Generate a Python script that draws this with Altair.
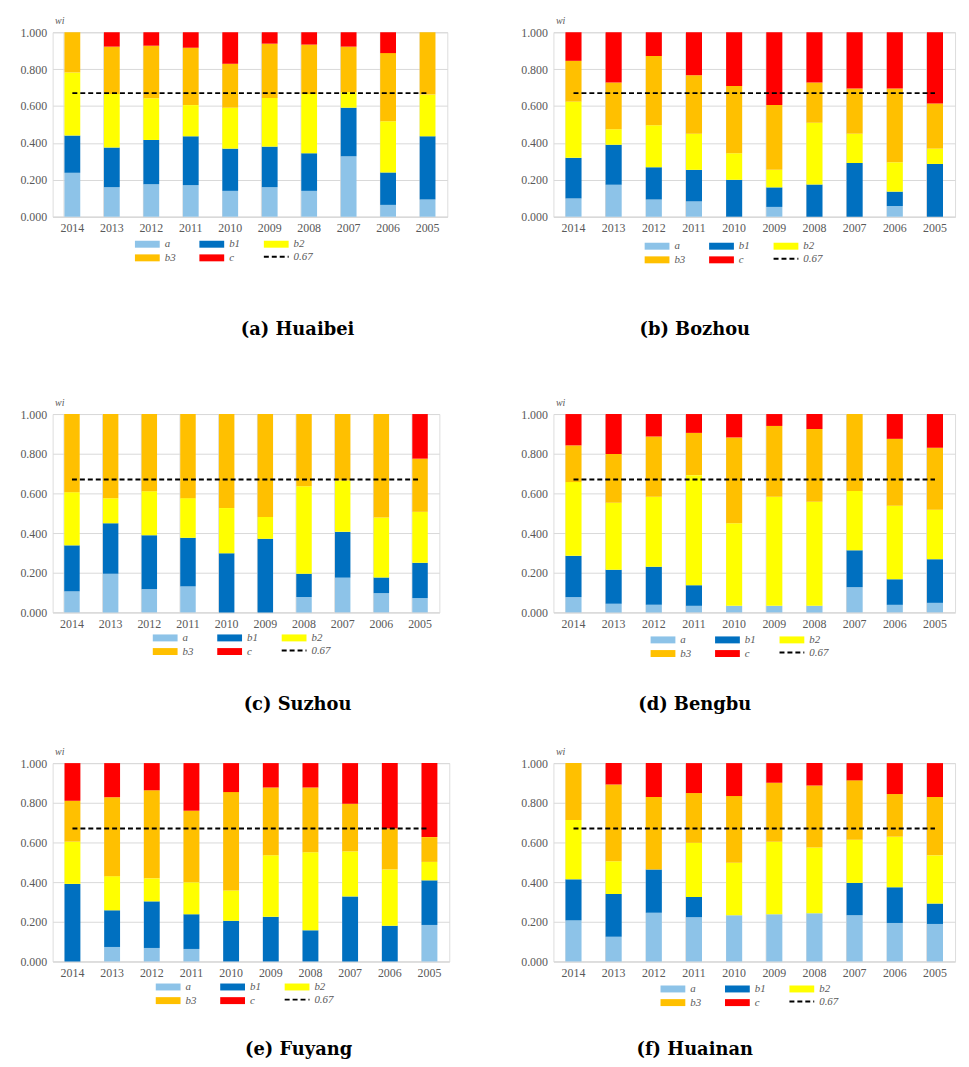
import altair as alt
import pandas as pd

years = ["2014", "2013", "2012", "2011", "2010", "2009", "2008", "2007", "2006", "2005"]
components = ["a", "b1", "b2", "b3", "c"]
colors = ["#8DC3E8", "#0070C0", "#FFFF00", "#FFC000", "#FF0000"]
threshold = 0.67

# segment shares per year (a, b1, b2, b3, c)
huaibei = {
    "a":  [0.238, 0.160, 0.176, 0.171, 0.140, 0.160, 0.140, 0.327, 0.064, 0.093],
    "b1": [0.202, 0.215, 0.240, 0.265, 0.229, 0.220, 0.204, 0.264, 0.176, 0.343],
    "b2": [0.342, 0.290, 0.226, 0.169, 0.222, 0.264, 0.321, 0.084, 0.278, 0.226],
    "b3": [0.218, 0.257, 0.285, 0.311, 0.238, 0.294, 0.268, 0.247, 0.369, 0.338],
    "c":  [0.000, 0.078, 0.073, 0.084, 0.171, 0.062, 0.067, 0.078, 0.113, 0.000],
}
bozhou = {
    "a":  [0.099, 0.173, 0.093, 0.083, 0.000, 0.053, 0.000, 0.000, 0.058, 0.000],
    "b1": [0.220, 0.217, 0.175, 0.171, 0.200, 0.106, 0.175, 0.291, 0.078, 0.286],
    "b2": [0.305, 0.084, 0.228, 0.196, 0.144, 0.095, 0.335, 0.159, 0.159, 0.083],
    "b3": [0.221, 0.253, 0.375, 0.317, 0.365, 0.351, 0.217, 0.245, 0.400, 0.245],
    "c":  [0.155, 0.273, 0.129, 0.233, 0.291, 0.395, 0.273, 0.305, 0.305, 0.386],
}
suzhou = {
    "a":  [0.106, 0.195, 0.116, 0.131, 0.000, 0.000, 0.077, 0.175, 0.097, 0.072],
    "b1": [0.232, 0.254, 0.273, 0.245, 0.298, 0.371, 0.118, 0.231, 0.079, 0.178],
    "b2": [0.268, 0.127, 0.222, 0.200, 0.228, 0.110, 0.441, 0.259, 0.303, 0.257],
    "b3": [0.394, 0.424, 0.389, 0.424, 0.474, 0.519, 0.364, 0.335, 0.521, 0.268],
    "c":  [0.000, 0.000, 0.000, 0.000, 0.000, 0.000, 0.000, 0.000, 0.000, 0.225],
}
bengbu = {
    "a":  [0.077, 0.043, 0.038, 0.033, 0.033, 0.033, 0.033, 0.127, 0.038, 0.048],
    "b1": [0.208, 0.172, 0.192, 0.104, 0.000, 0.000, 0.000, 0.186, 0.129, 0.220],
    "b2": [0.372, 0.338, 0.353, 0.555, 0.417, 0.550, 0.525, 0.299, 0.371, 0.250],
    "b3": [0.185, 0.245, 0.304, 0.213, 0.432, 0.357, 0.367, 0.388, 0.337, 0.312],
    "c":  [0.158, 0.202, 0.113, 0.095, 0.118, 0.060, 0.075, 0.000, 0.125, 0.170],
}
fuyang = {
    "a":  [0.000, 0.073, 0.068, 0.063, 0.000, 0.000, 0.000, 0.000, 0.000, 0.184],
    "b1": [0.391, 0.185, 0.235, 0.175, 0.205, 0.225, 0.157, 0.328, 0.180, 0.225],
    "b2": [0.213, 0.172, 0.116, 0.161, 0.153, 0.311, 0.394, 0.227, 0.284, 0.093],
    "b3": [0.206, 0.398, 0.444, 0.361, 0.496, 0.341, 0.326, 0.240, 0.206, 0.125],
    "c":  [0.190, 0.172, 0.137, 0.240, 0.146, 0.123, 0.123, 0.205, 0.330, 0.373],
}
huainan = {
    "a":  [0.207, 0.125, 0.246, 0.223, 0.233, 0.238, 0.243, 0.233, 0.194, 0.189],
    "b1": [0.207, 0.215, 0.217, 0.102, 0.000, 0.000, 0.000, 0.163, 0.180, 0.103],
    "b2": [0.299, 0.165, 0.000, 0.273, 0.265, 0.366, 0.332, 0.218, 0.255, 0.243],
    "b3": [0.287, 0.387, 0.366, 0.251, 0.336, 0.297, 0.312, 0.299, 0.215, 0.294],
    "c":  [0.000, 0.108, 0.171, 0.151, 0.166, 0.099, 0.113, 0.087, 0.156, 0.171],
}
y_ticks = [0.0, 0.2, 0.4, 0.6, 0.8, 1.0]

SERIF = "Liberation Serif"
GRAY = "#595959"
GRID = "#d9d9d9"
RECT = "M-2.5,-0.7H2.5V0.7H-2.5Z"


def panel(caption, data, width, height, lx, ly, toff, dx):
    rows = []
    for ci, comp in enumerate(components):
        for yi, yr in enumerate(years):
            rows.append({"year": yr, "component": comp, "order": ci, "value": data[comp][yi]})
    df = pd.DataFrame(rows)
    line_df = pd.DataFrame({"year": years, "value": [threshold] * len(years), "lbl": ["0.67"] * len(years)})

    xscale = alt.Scale(type="band", paddingInner=0.6, paddingOuter=0.3)
    xaxis = alt.Axis(title=None, labelAngle=0, ticks=False, grid=True, bandPosition=0,
                     gridColor=GRID, domainColor=GRID, labelFont=SERIF, labelFontSize=12,
                     labelColor=GRAY, labelPadding=6)
    yscale = alt.Scale(domain=[0, 1], nice=False)
    yaxis = alt.Axis(title="wi", titleAngle=0, titleX=2, titleY=-7, titleAlign="left",
                     titleFont=SERIF, titleFontStyle="italic", titleFontWeight="normal",
                     titleFontSize=10, titleColor=GRAY,
                     values=y_ticks, format=".3f", labelOverlap=False, labelFlush=False,
                     ticks=False, domain=False, gridColor=GRID,
                     labelFont=SERIF, labelFontSize=12, labelColor=GRAY, labelPadding=6)
    bars = alt.Chart(df).mark_bar().encode(
        x=alt.X("year:N", sort=years, scale=xscale, axis=xaxis),
        y=alt.Y("value:Q", stack="zero", scale=yscale, axis=yaxis),
        color=alt.Color("component:N", sort=components,
                        scale=alt.Scale(domain=components, range=colors),
                        legend=alt.Legend(title=None, orient="none", legendX=lx + 8,
                                          legendY=height + ly,
                                          direction="horizontal", columns=3, columnPadding=24,
                                          rowPadding=2,
                                          symbolType=RECT, symbolSize=100, symbolStrokeWidth=0,
                                          labelFont=SERIF, labelFontStyle="italic", labelFontSize=11,
                                          labelColor=GRAY, labelOffset=12)),
        order=alt.Order("order:Q"),
    )
    line = alt.Chart(line_df).mark_line(color="black", strokeWidth=2).encode(
        x=alt.X("year:N", sort=years, scale=xscale, axis=xaxis),
        y=alt.Y("value:Q", scale=yscale, axis=yaxis),
        strokeDash=alt.StrokeDash("lbl:N", scale=alt.Scale(domain=["0.67"], range=[[5, 3]]),
                                  legend=alt.Legend(title=None, orient="none", legendX=lx + 130,
                                                    legendY=height + ly + 5,
                                                    symbolType="stroke", symbolStrokeColor="black",
                                                    symbolStrokeWidth=2, symbolSize=625,
                                                    labelFont=SERIF, labelFontStyle="italic",
                                                    labelFontSize=11, labelColor=GRAY, labelOffset=4)),
    )
    return alt.layer(bars, line).properties(
        width=width, height=height,
        title=alt.TitleParams(text=caption, orient="bottom", font="DejaVu Serif", fontSize=18,
                              fontWeight="bold", color="black", offset=toff, dx=dx),
    ).resolve_legend(color="independent", strokeDash="independent")


def row(p1, p2, spacing):
    return alt.hconcat(p1, p2, spacing=spacing).resolve_legend(
        color="independent", strokeDash="independent")


row1 = row(panel("(a) Huaibei", huaibei, 398, 186, 82, 22, 58, 48),
           panel("(b) Bozhou", bozhou, 405, 186, 91, 24, 56, -60), 72)
row2 = row(panel("(c) Suzhou", suzhou, 390, 200, 100, 20, 39, 52),
           panel("(d) Bengbu", bengbu, 405, 200, 97, 22, 37, -60), 80)
row3 = row(panel("(e) Fuyang", fuyang, 400, 200, 103, 20, 35, 48),
           panel("(f) Huainan", huainan, 405, 200, 107, 22, 33, -60), 70)

chart = alt.vconcat(
    row1,
    alt.vconcat(row2, row3, spacing=31).resolve_legend(color="independent", strokeDash="independent"),
    spacing=57,
).resolve_legend(color="independent", strokeDash="independent").configure_view(
    stroke=GRID
).configure(background="white", padding={"left": 11, "top": 2, "right": 5, "bottom": 5})

chart.save("out.html", embed_options={"renderer": "svg", "actions": False})
